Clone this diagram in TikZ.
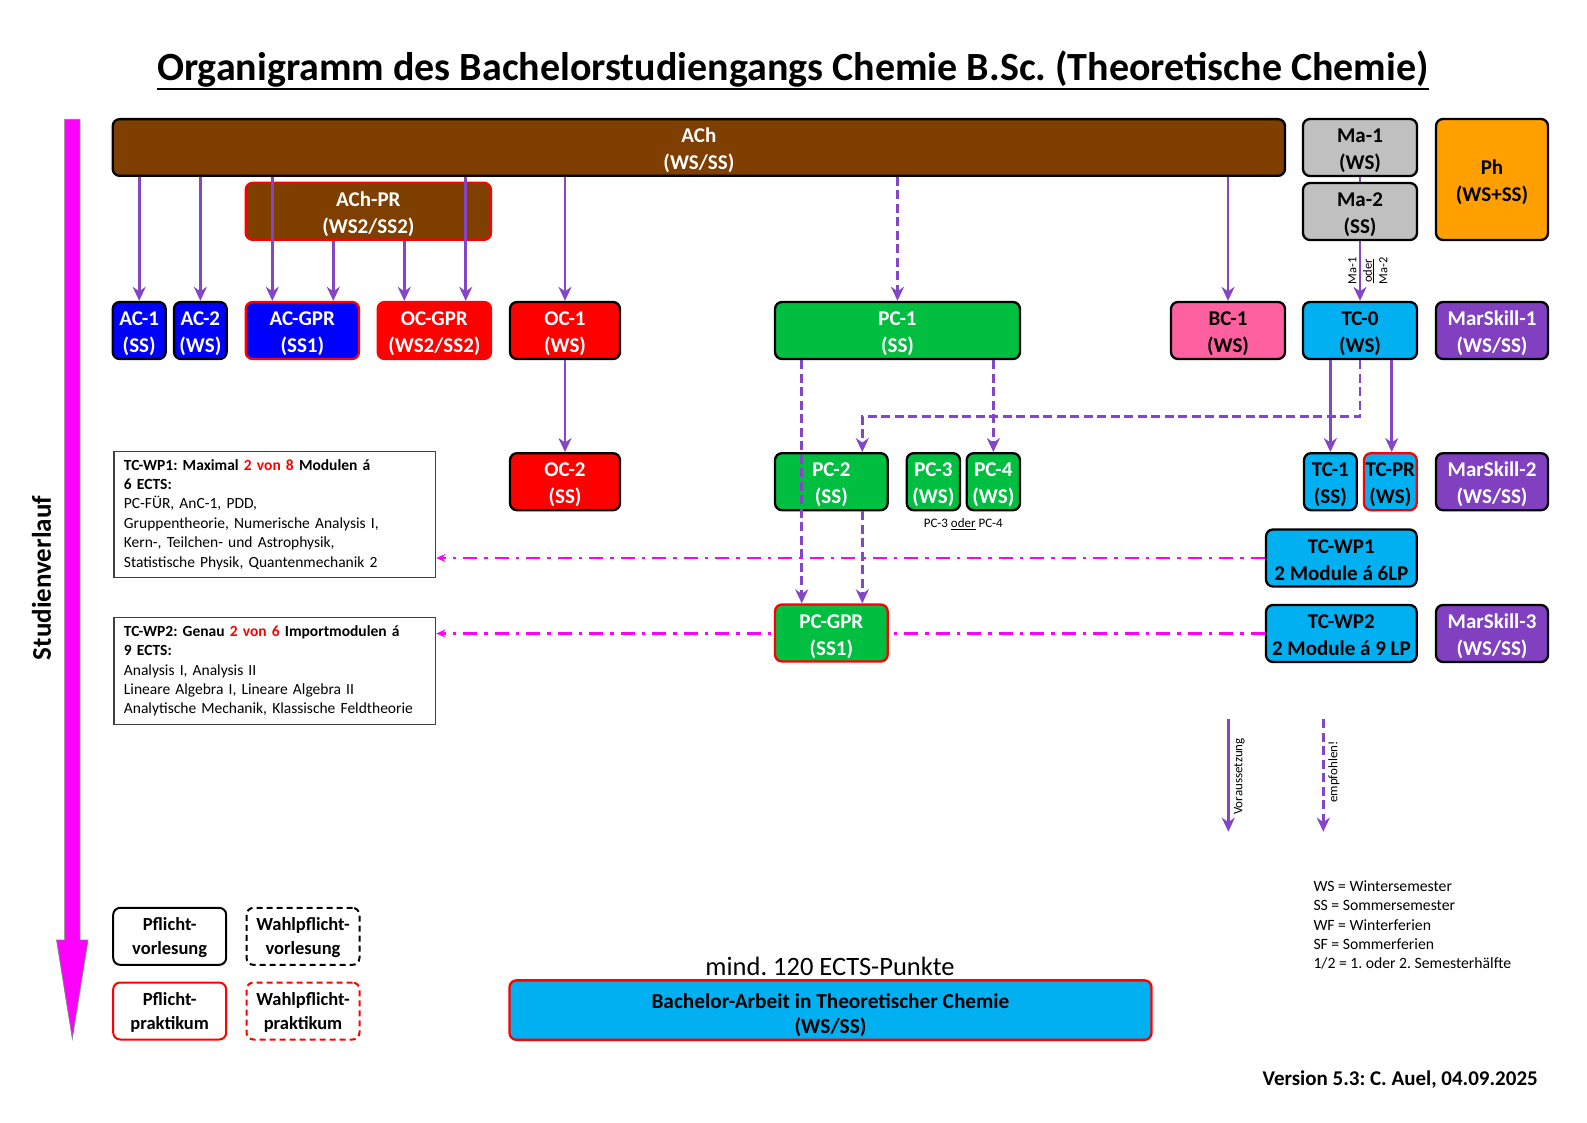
\documentclass[tikz,border=0pt]{standalone}
\usepackage{fontspec}
\setmainfont{Carlito}
\usetikzlibrary{arrows.meta}
\definecolor{achbrown}{HTML}{7F3F00}
\definecolor{mblue}{HTML}{0000FF}
\definecolor{mred}{HTML}{FF0000}
\definecolor{mgreen}{HTML}{00BF40}
\definecolor{mcyan}{HTML}{00B0F0}
\definecolor{mpink}{HTML}{FF60A0}
\definecolor{mpurple}{HTML}{8040C0}
\definecolor{apurple}{HTML}{8446C6}
\definecolor{mgray}{HTML}{C0C0C0}
\definecolor{morange}{HTML}{FFA000}
\definecolor{mmagenta}{HTML}{FF00FF}
\newcommand\mlines[3][23pt]{\rule{0pt}{#1}#2\\#3\rule[-6pt]{0pt}{6pt}}
\frenchspacing
\begin{document}
\frenchspacing
\begin{tikzpicture}[x=1pt,y=-1pt,
  mod/.style={draw=black, line width=2.3pt, rounded corners=7pt, inner sep=0pt,
    minimum height=57pt, align=center, font=\bfseries\fontsize{21}{27}\selectfont},
  legbox/.style={draw=black, line width=2pt, rounded corners=7pt, inner sep=0pt, fill=white,
    minimum height=57pt, minimum width=113pt, align=center, font=\bfseries\fontsize{18.5}{24}\selectfont},
  wpbox/.style={draw=black!75, line width=1.3pt, inner xsep=10pt, inner ysep=0pt, align=left,
    text width=301.7pt, font=\fontsize{15.5}{19.4}\selectfont},
  req/.style={draw=apurple, line width=2.8pt, -{Stealth[length=14pt,width=13pt,inset=4.5pt]}},
  rec/.style={req, dash pattern=on 9pt off 4.5pt},
  wpline/.style={draw=mmagenta, line width=2.6pt, dash pattern=on 14pt off 7pt on 3.5pt off 7pt,
    -{Stealth[length=9pt,width=8pt]}},
  small/.style={inner sep=0pt, font=\fontsize{13}{15.5}\selectfont}
]
\useasboundingbox (0,0) rectangle (1587,1123);
\fill[white] (0,0) rectangle (1587,1123);

% title
\node[anchor=base, inner sep=0pt, font=\bfseries\fontsize{40}{48}\selectfont] (title) at (793,81)
  {Organigramm des Bachelorstudiengangs Chemie B.Sc. (Theoretische Chemie)};
\draw[line width=2.8pt] ([yshift=-8pt]title.base west) -- ([yshift=-8pt]title.base east);

% Studienverlauf arrow
\draw[draw=gray, line width=0.8pt, fill=mmagenta] (64.7,119.3) -- (79.9,119.3) -- (79.9,940) -- (88,940)
  -- (72.3,1038.3) -- (56.6,940) -- (64.7,940) -- cycle;
\node[rotate=90, inner sep=0pt, font=\bfseries\fontsize{27}{30}\selectfont] (sv) at (41.5,578) {Studienverlauf};

% row 1
\node[mod, fill=achbrown, text=white, minimum width=1172.3pt, minimum height=56.7pt] (ach) at (698.85,147.5) {\mlines{ACh}{(WS/SS)}};
\node[mod, fill=mgray, minimum width=114pt] (ma1) at (1360,147.5) {\mlines{Ma-1}{(WS)}};
\node[mod, fill=mgray, minimum width=114pt] (ma2) at (1360,211.5) {\mlines{Ma-2}{(SS)}};
\node[mod, fill=morange, minimum width=112pt, minimum height=121pt] (ph) at (1492,179.5) {\mlines{Ph}{(WS+SS)}};
\node[mod, draw=mred, fill=achbrown, text=white, minimum width=245.3pt] (achpr) at (368.35,211.35) {\mlines{ACh-PR}{(WS2/SS2)}};

% row 2
\node[mod, fill=mblue, text=white, minimum width=53pt] (ac1) at (139.2,330.5) {\mlines{AC-1}{(SS)}};
\node[mod, fill=mblue, text=white, minimum width=52.7pt] (ac2) at (200.35,330.5) {\mlines{AC-2}{(WS)}};
\node[mod, draw=mred, fill=mblue, text=white, minimum width=113.3pt] (acgpr) at (302.35,330.5) {\mlines{AC-GPR}{(SS1)}};
\node[mod, draw=mred, fill=mred, text=white, minimum width=113.3pt] (ocgpr) at (434.35,330.5) {\mlines{OC-GPR}{(WS2/SS2)}};
\node[mod, fill=mred, text=white, minimum width=110pt] (oc1) at (565,330.5) {\mlines{OC-1}{(WS)}};
\node[mod, fill=mgreen, text=white, minimum width=245pt] (pc1) at (897.5,330.5) {\mlines{PC-1}{(SS)}};
\node[mod, fill=mpink, minimum width=114pt] (bc1) at (1228,330.5) {\mlines{BC-1}{(WS)}};
\node[mod, fill=mcyan, minimum width=114pt] (tc0) at (1360,330.5) {\mlines{TC-0}{(WS)}};
\node[mod, fill=mpurple, text=white, minimum width=112pt] (ms1) at (1492,330.5) {\mlines{MarSkill-1}{(WS/SS)}};

% row 3
\node[mod, fill=mred, text=white, minimum width=110pt] (oc2) at (565,481.7) {\mlines{OC-2}{(SS)}};
\node[mod, fill=mgreen, text=white, minimum width=112.7pt] (pc2) at (831.35,481.7) {\mlines{PC-2}{(SS)}};
\node[mod, fill=mgreen, text=white, minimum width=53.3pt] (pc3) at (933.35,481.7) {\mlines{PC-3}{(WS)}};
\node[mod, fill=mgreen, text=white, minimum width=53.3pt] (pc4) at (993.35,481.7) {\mlines{PC-4}{(WS)}};
\node[mod, fill=mcyan, minimum width=52.7pt] (tc1) at (1330.35,481.7) {\mlines{TC-1}{(SS)}};
\node[mod, draw=mred, fill=mcyan, minimum width=52.7pt] (tcpr) at (1390.35,481.7) {\mlines{TC-PR}{(WS)}};
\node[mod, fill=mpurple, text=white, minimum width=112pt] (ms2) at (1492,481.7) {\mlines{MarSkill-2}{(WS/SS)}};
\node[small] (pcor) at (963.3,524.3) {PC-3 \underline{oder} PC-4};

% WP rows
\node[mod, fill=mcyan, minimum width=150.7pt] (tcwp1) at (1341.35,558) {\mlines{TC-WP1}{2 Module á 6LP}};
\node[mod, fill=mcyan, minimum width=150.7pt] (tcwp2) at (1341.35,633.5) {\mlines{TC-WP2}{2 Module á 9 LP}};
\node[mod, fill=mpurple, text=white, minimum width=112pt] (ms3) at (1492,633.5) {\mlines{MarSkill-3}{(WS/SS)}};

\node[wpbox, anchor=north west, minimum height=126pt] (wp1box) at (113.3,450.7)
 {\mbox{\textbf{TC-WP1: Maximal \textcolor{mred}{2 von 8} Modulen á}}\\
  \mbox{\textbf{6 ECTS:}}\\
  \mbox{PC-FÜR, AnC-1, PDD,}\\
  \mbox{Gruppentheorie, Numerische Analysis I,}\\
  \mbox{Kern-, Teilchen- und Astrophysik,}\\
  \mbox{Statistische Physik, Quantenmechanik 2}};
\node[wpbox, anchor=north west, minimum height=107.3pt] (wp2box) at (113.3,616.7)
 {\mbox{\textbf{TC-WP2: Genau \textcolor{mred}{2 von 6} Importmodulen á}}\\
  \mbox{\textbf{9 ECTS:}}\\
  \mbox{Analysis I, Analysis II}\\
  \mbox{Lineare Algebra I, Lineare Algebra II}\\
  \mbox{Analytische Mechanik, Klassische Feldtheorie}};

% magenta connectors (behind PC-GPR)
\draw[wpline] (tcwp1.west) -- (tcwp1.west -| wp1box.east);
\draw[wpline] (tcwp2.west) -- (tcwp2.west -| wp2box.east);

\node[mod, draw=mred, fill=mgreen, text=white, minimum width=112.7pt] (pcgpr) at (831.35,633) {\mlines{PC-GPR}{(SS1)}};

% legend
\node[legbox] (leg1) at (169.7,936.35) {\mlines[19pt]{Pflicht-}{vorlesung}};
\node[legbox, dash pattern=on 6pt off 4pt] (leg2) at (303,936.35) {\mlines[19pt]{Wahlpflicht-}{vorlesung}};
\node[legbox, draw=mred] (leg3) at (169.7,1011) {\mlines[19pt]{Pflicht-}{praktikum}};
\node[legbox, draw=mred, dash pattern=on 6pt off 4pt] (leg4) at (303,1011) {\mlines[19pt]{Wahlpflicht-}{praktikum}};

\node[inner sep=0pt, font=\fontsize{26.5}{30}\selectfont] (ects) at (830,966.5) {mind. 120 ECTS-Punkte};
\node[mod, draw=mred, fill=mcyan, minimum width=642pt, minimum height=56.8pt,
  font=\bfseries\fontsize{21.3}{25.5}\selectfont] (bach) at (830.5,1010.1)
  {\mlines[28pt]{Bachelor-Arbeit in Theoretischer Chemie}{(WS/SS)}};

\node[anchor=north west, inner sep=0pt, align=left, font=\fontsize{15.7}{19.3}\selectfont] (abbr) at (1313.3,880.5)
  {WS = Wintersemester\\SS = Sommersemester\\WF = Winterferien\\SF = Sommerferien\\1/2 = 1. oder 2. Semesterhälfte};

\node[anchor=base east, inner sep=0pt, font=\bfseries\fontsize{21}{25}\selectfont] (version) at (1538,1085)
  {Version 5.3: C. Auel, 04.09.2025};

% purple connectors
\draw[req] (ac1.north |- ach.south) -- (ac1.north);
\draw[req] (ac2.north |- ach.south) -- (ac2.north);
\draw[req] (272.3,0 |- ach.south) -- (272.3,0 |- acgpr.north);
\draw[req] (333.3,0 |- achpr.south) -- (333.3,0 |- acgpr.north);
\draw[req] (404.3,0 |- achpr.south) -- (404.3,0 |- ocgpr.north);
\draw[req] (465.7,0 |- ach.south) -- (465.7,0 |- ocgpr.north);
\draw[req] (oc1.north |- ach.south) -- (oc1.north);
\draw[rec] (pc1.north |- ach.south) -- (pc1.north);
\draw[req] (bc1.north |- ach.south) -- (bc1.north);
\draw[draw=apurple, line width=2.8pt] (ma1.south) -- (ma2.north);
\node[rotate=90, align=center, inner sep=0pt, font=\fontsize{12.5}{15.5}\selectfont] (malabel) at (1368,271)
  {Ma-1\\\underline{oder}\\Ma-2};
\draw[req] (ma2.south) -- (tc0.north);
\draw[req] (oc1.south) -- (oc2.north);
\draw[rec] (801.7,0 |- pc1.south) -- (801.7,0 |- pcgpr.north);
\draw[rec] (pc4.north |- pc1.south) -- (pc4.north);
\draw[rec] (tc0.south) |- (862.3,416.7) -- (862.3,0 |- pc2.north);
\draw[rec] (862.3,0 |- pc2.south) -- (862.3,0 |- pcgpr.north);
\draw[req] (tc1.north |- tc0.south) -- (tc1.north);
\draw[req] (1391.7,0 |- tc0.south) -- (1391.7,0 |- tcpr.north);

% legend arrows
\coordinate (la1) at (1228.3,719);
\coordinate (la2) at (1228.3,831.7);
\coordinate (lb1) at (1323.3,719);
\coordinate (lb2) at (1323.3,831.7);
\draw[req] (la1) -- (la2);
\draw[rec] (lb1) -- (lb2);
\node[small, rotate=90] (vor) at (1239.3,776.5) {Voraussetzung};
\node[small, rotate=90] (emp) at (1334,772) {empfohlen!};
\end{tikzpicture}
\end{document}
